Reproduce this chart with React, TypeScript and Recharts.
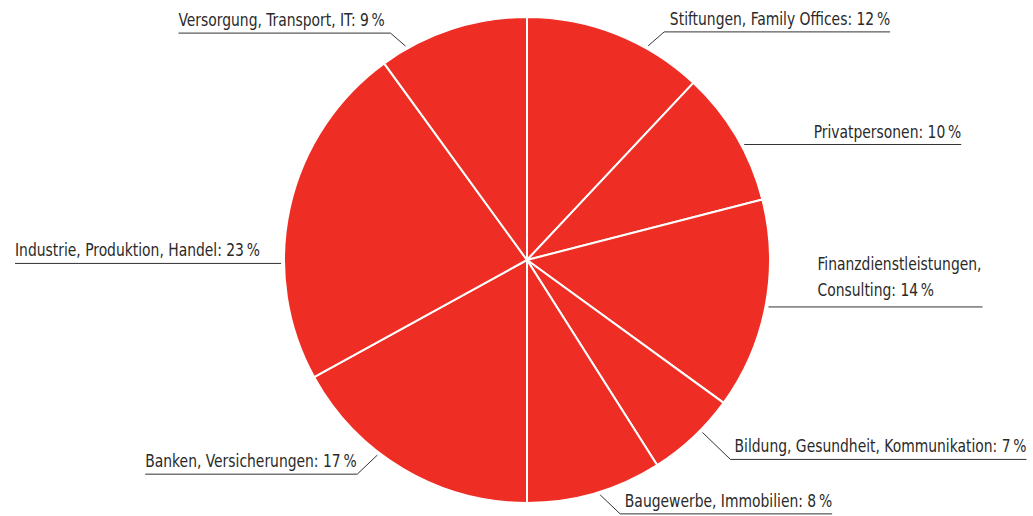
import React from 'react';
import { PieChart, Pie, Cell } from 'recharts';

// sectors, clockwise from 12 o'clock
const sectors = [
  'Stiftungen, Family Offices',
  'Privatpersonen',
  'Finanzdienstleistungen, Consulting',
  'Bildung, Gesundheit, Kommunikation',
  'Baugewerbe, Immobilien',
  'Banken, Versicherungen',
  'Industrie, Produktion, Handel',
  'Versorgung, Transport, IT',
];
// slice sizes as drawn (%)
const shares = [12, 9, 14, 6, 9, 17, 23, 10];
// percentages as printed in the labels
const printed = [12, 10, 14, 7, 8, 17, 23, 9];

const data = sectors.map((name, i) => ({ name, value: shares[i], printed: printed[i] }));

// leader placement: angle clockwise from top, elbow offset, underline length
const leaders = [
  { angle: 29.5, dx: 16, dy: -14, len: 226, side: 1 },
  { angle: 62, dx: 0, dy: 0, len: 217, side: 1 },
  { angle: 101, dx: 0, dy: 0, len: 214, side: 1, wrap: true, textDx: 49 },
  { angle: 134.5, dx: 28, dy: 27, len: 296, side: 1 },
  { angle: 162.7, dx: 20, dy: 19, len: 212, side: 1 },
  { angle: 217.5, dx: -20, dy: 19, len: 212, side: -1 },
  { angle: 269.2, dx: 0, dy: 0, len: 266, side: -1 },
  { angle: 330.4, dx: -15, dy: -13, len: 212, side: -1 },
];

const RED = '#EE2E24';
const INK = '#2a2a2a';
const FONT = '"DejaVu Sans Condensed", "DejaVu Sans", sans-serif';
const SQUEEZE = 0.835; // the original face is narrower than anything installed

const Label = ({ x, y, anchor, lines }: { x: number; y: number; anchor: 'start' | 'end'; lines: string[] }) => (
  <text
    transform={`translate(${x},${y}) scale(${SQUEEZE},1)`}
    fill={INK}
    fontSize={18.5}
    fontFamily={FONT}
    fontStretch="condensed"
    textAnchor={anchor}
  >
    {lines.map((t, i) => (
      <tspan key={i} x={0} dy={i === 0 ? 0 : 26}>
        {t}
      </tspan>
    ))}
  </text>
);

const renderLabel = (props: any) => {
  const { cx, cy, outerRadius, index } = props;
  const l = leaders[index];
  const d = data[index];
  const rad = (l.angle * Math.PI) / 180;
  const r = outerRadius + 3;
  const sx = cx + r * Math.sin(rad);
  const sy = cy - r * Math.cos(rad);
  const ex = sx + l.dx;
  const ey = sy + l.dy;
  const endX = ex + l.side * l.len;
  const pct = `${d.printed}\u2009%`;

  let text;
  if (l.wrap) {
    const [first, second] = d.name.split(', ');
    text = <Label x={ex + (l.textDx || 0)} y={ey - 37} anchor="start" lines={[`${first},`, `${second}: ${pct}`]} />;
  } else {
    text = <Label x={endX} y={ey - 7} anchor={l.side > 0 ? 'end' : 'start'} lines={[`${d.name}: ${pct}`]} />;
  }

  return (
    <g key={`lbl-${index}`}>
      <polyline points={`${sx},${sy} ${ex},${ey} ${endX},${ey}`} fill="none" stroke="#333" strokeWidth={1} />
      {text}
    </g>
  );
};

const App: React.FC = () => {
  return (
    <div style={{ position: 'absolute', left: 0, top: 0, width: 1033, height: 516, background: '#fff' }}>
      <PieChart width={1033} height={516} margin={{ top: 0, right: 0, bottom: 0, left: 0 }}>
        <Pie
          data={data}
          dataKey="value"
          nameKey="name"
          cx={527}
          cy={260}
          outerRadius={243}
          startAngle={90}
          endAngle={-270}
          stroke="#fff"
          strokeWidth={2}
          label={renderLabel}
          labelLine={false}
          isAnimationActive={false}
        >
          {data.map((d) => (
            <Cell key={d.name} fill={RED} />
          ))}
        </Pie>
      </PieChart>
    </div>
  );
};

export default App;
